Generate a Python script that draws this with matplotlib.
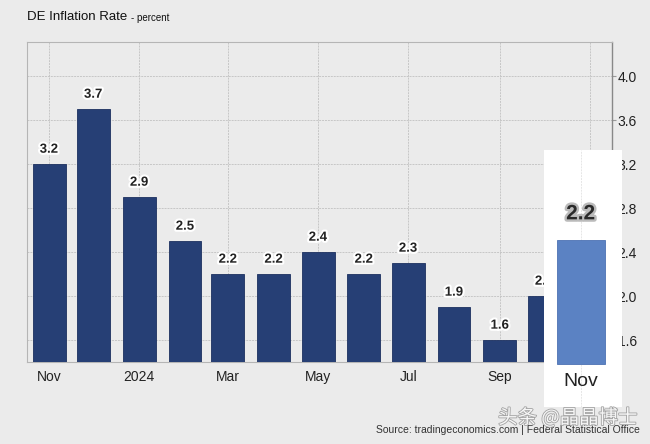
import matplotlib.pyplot as plt
import matplotlib.dates as mdates
import matplotlib.patheffects as pe
import numpy as np
import datetime as dt

plt.rcParams['font.family'] = ['Liberation Sans', 'DejaVu Sans']

months = ["2023-11", "2023-12", "2024-01", "2024-02", "2024-03", "2024-04", "2024-05",
          "2024-06", "2024-07", "2024-08", "2024-09", "2024-10", "2024-11"]
rates = [3.2, 3.7, 2.9, 2.5, 2.2, 2.2, 2.4, 2.2, 2.3, 1.9, 1.6, 2.0, 2.2]
tick_months = ["2023-11", "2024-01", "2024-03", "2024-05", "2024-07", "2024-09", "2024-11"]
# last tick label sits under the highlight panel, so it is left blank
tick_labels = ["Nov", "2024", "Mar", "May", "Jul", "Sep", ""]
y_ticks = [1.6, 2.0, 2.4, 2.8, 3.2, 3.6, 4.0]
latest_label = "Nov"
latest_value = rates[-1]

BASE = 1.4
bg = "#ebebeb"
navy = "#263f75"
light = "#5b82c3"


def to_num(m):
    return mdates.date2num(dt.datetime.strptime(m + "-01", "%Y-%m-%d"))


x = np.array([to_num(m) for m in months])
xt = [to_num(m) for m in tick_months]

fig = plt.figure(figsize=(6.5, 4.44), dpi=100)
fig.patch.set_facecolor(bg)
ax = fig.add_axes([27 / 650, 1 - 362 / 444, 585 / 650, 320 / 444])
ax.set_facecolor(bg)

ax.bar(x, rates, width=22.3, color=navy, edgecolor="#1c3060", linewidth=0.6, zorder=3)
stroke = [pe.withStroke(linewidth=3, foreground="white")]
for xi, v in zip(x, rates):
    ax.annotate(f"{v:.1f}", (xi, v), xytext=(0, 6), textcoords="offset points",
                ha="center", va="bottom", fontsize=9.5, fontweight="bold",
                color="#222222", path_effects=stroke, zorder=4)

ax.set_xlim(x[0] - 14.9, x[-1] + 14.9)
ax.set_ylim(BASE, 4.31)
ax.set_xticks(xt)
ax.set_xticklabels(tick_labels, fontsize=10, color="#222222")
ax.set_yticks(y_ticks)
ax.set_yticklabels([f"{t:.1f}" for t in y_ticks], fontsize=10, color="#222222")
ax.yaxis.tick_right()
ax.tick_params(axis="y", length=3, pad=1, color="#999999")
ax.tick_params(axis="x", length=0, pad=6)
ax.grid(True, color="#c6c6c6", linestyle=(0, (2, 1)), linewidth=0.7, zorder=0)
for s in ["left", "top", "bottom"]:
    ax.spines[s].set_color("#b5b5b5")
    ax.spines[s].set_linewidth(0.8)
ax.spines["right"].set_color("#888888")
ax.spines["right"].set_linewidth(1.0)

fig.text(27 / 650, 1 - 17 / 444, "DE Inflation Rate", fontsize=9.5, color="#111111",
         va="center", ha="left")
fig.text(131 / 650, 1 - 18 / 444, "- percent", fontsize=7, color="#111111",
         va="center", ha="left")

# highlighted latest value panel
ins = fig.add_axes([544 / 650, 1 - 407 / 444, 78 / 650, 257 / 444])
ins.set_facecolor("white")
ins.set_xlim(0, 1)
px = 124 / 0.8
ins.set_ylim(BASE - 43 / px, BASE + 214 / px)
ins.bar([0.47], [latest_value - BASE], bottom=BASE, width=0.615, color=light,
        edgecolor="#4d72b3", linewidth=0.6, zorder=3)
ins.axvline(0.47, color="#e6e6e6", linestyle=(0, (2, 1)), linewidth=0.7, zorder=1)
ins.annotate(f"{latest_value:.1f}", (0.47, latest_value), xytext=(0, 12),
             textcoords="offset points", ha="center", va="bottom", fontsize=15,
             fontweight="bold", color="#2a2a2a",
             path_effects=[pe.withStroke(linewidth=3.5, foreground="#bbbbbb")], zorder=4)
ins.text(0.47, BASE - 18 / px, latest_label, ha="center", va="center", fontsize=14,
         color="#222222")
ins.set_xticks([])
ins.set_yticks([])
for s in ins.spines.values():
    s.set_visible(False)

fig.text(640 / 650, 1 - 430 / 444, "Source: tradingeconomics.com | Federal Statistical Office",
         fontsize=7.5, color="#333333", ha="right", va="center")
fig.text(568 / 650, 1 - 418 / 444, "头条 @晶晶博士", fontsize=14, color="white", alpha=0.9,
         ha="center", va="center", family=["Noto Sans CJK SC", "DejaVu Sans"],
         path_effects=[pe.withStroke(linewidth=1.2, foreground="#9a9a9a")])

fig.savefig("out.png", dpi=100, facecolor=bg)
